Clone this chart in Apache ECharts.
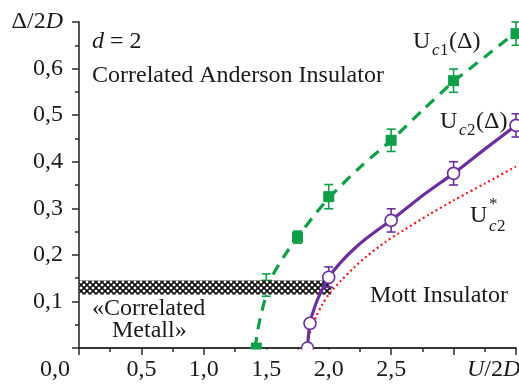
<!DOCTYPE html>
<html>
<head>
<meta charset="utf-8">
<script src="https://cdn.jsdelivr.net/npm/echarts@6/dist/echarts.min.js"></script>
<style>
  html, body { margin: 0; padding: 0; background: #fff; }
  #chart { width: 519px; height: 388px; }
</style>
</head>
<body>
<div id="chart"></div>
<script>
// U_c1(Δ): filled squares with error bars
const uc1U = [1.42, 1.5, 1.75, 2.0, 2.5, 3.0, 3.5];
const uc1D = [0.0, 0.135, 0.238, 0.325, 0.446, 0.574, 0.675];
const uc1Err = [0.0, 0.024, 0.013, 0.026, 0.024, 0.025, 0.025];
// dashed green fit
const uc1FitU = [1.41, 1.44, 1.49, 1.55, 1.65, 1.75, 1.9, 2.0, 2.25, 2.5, 2.75, 3.0, 3.25, 3.5];
const uc1FitD = [0.0, 0.05, 0.105, 0.155, 0.2, 0.238, 0.29, 0.322, 0.388, 0.446, 0.51, 0.572, 0.625, 0.678];

// U_c2(Δ): open circles with error bars
const uc2U = [1.83, 1.85, 2.0, 2.5, 3.0, 3.5];
const uc2D = [0.0, 0.053, 0.152, 0.274, 0.375, 0.478];
const uc2Err = [0.0, 0.0, 0.022, 0.025, 0.025, 0.025];
// solid purple fit
const uc2FitU = [1.83, 1.85, 1.9, 1.95, 2.0, 2.1, 2.2, 2.3, 2.4, 2.5, 2.75, 3.0, 3.25, 3.5];
const uc2FitD = [0.0, 0.053, 0.097, 0.127, 0.152, 0.185, 0.212, 0.235, 0.255, 0.274, 0.327, 0.375, 0.427, 0.478];

// U*_c2: dotted red curve
const ucStarU = [1.83, 1.84, 1.86, 1.9, 1.95, 2.0, 2.1, 2.2, 2.3, 2.45, 2.6, 2.8, 3.0, 3.25, 3.5];
const ucStarD = [0.0, 0.022, 0.042, 0.068, 0.094, 0.115, 0.145, 0.172, 0.196, 0.227, 0.253, 0.286, 0.317, 0.353, 0.39];

// hatched "correlated metal" band
const bandU = [0.0, 2.02];
const bandD = [0.115, 0.145];

const xTicks = [0.5, 1.0, 1.5, 2.0, 2.5];
const yTicks = [0.1, 0.2, 0.3, 0.4, 0.5, 0.6];

const GREEN = "#0e9f47";
const PURPLE = "#6b2f9e";
const RED = "#f5141e";
const AXIS = "#2a2a2a";
const FONT = "Liberation Serif";

const chart = echarts.init(document.getElementById("chart"), null, { renderer: "canvas" });

function hatch() {
  const c = document.createElement("canvas");
  c.width = c.height = 6;
  const g = c.getContext("2d");
  g.fillStyle = "#fff";
  g.fillRect(0, 0, 6, 6);
  g.strokeStyle = "#111";
  g.lineWidth = 1.7;
  g.beginPath();
  g.moveTo(0, 0); g.lineTo(6, 6);
  g.moveTo(6, 0); g.lineTo(0, 6);
  g.stroke();
  return c;
}
const hatchCanvas = hatch();

const fmt = (v) => v.toFixed(1).replace(".", ",");

function errBars(color) {
  return function (params, api) {
    const x = api.value(0), y = api.value(1), e = api.value(2);
    if (!e) return null;
    const top = api.coord([x, y + e]);
    const bot = api.coord([x, y - e]);
    const hw = 4.5;
    const st = { stroke: color, lineWidth: 1.6 };
    return {
      type: "group",
      children: [
        { type: "line", shape: { x1: top[0], y1: top[1], x2: bot[0], y2: bot[1] }, style: st },
        { type: "line", shape: { x1: top[0] - hw, y1: top[1], x2: top[0] + hw, y2: top[1] }, style: st },
        { type: "line", shape: { x1: bot[0] - hw, y1: bot[1], x2: bot[0] + hw, y2: bot[1] }, style: st },
      ],
    };
  };
}

const uc1 = uc1U.map((u, i) => [u, uc1D[i], uc1Err[i]]);
const uc2 = uc2U.map((u, i) => [u, uc2D[i], uc2Err[i]]);
const uc1Fit = uc1FitU.map((u, i) => [u, uc1FitD[i]]);
const uc2Fit = uc2FitU.map((u, i) => [u, uc2FitD[i]]);
const ucStar = ucStarU.map((u, i) => [u, ucStarD[i]]);

const txt = (left, top, text, size, italic, extra) => ({
  type: "text",
  left: left,
  top: top,
  z: 20,
  style: Object.assign({
    text: text,
    font: (italic ? "italic " : "") + size + "px '" + FONT + "'",
    fill: "#1a1a1a",
  }, extra || {}),
});

const richIN = {
  i: { font: "italic 24px '" + FONT + "'", fill: "#1a1a1a" },
  n: { font: "24px '" + FONT + "'", fill: "#1a1a1a" },
};

const option = {
  backgroundColor: "#fff",
  animation: false,
  grid: { left: 79, right: 0, top: 22, bottom: 40 },
  xAxis: [
    {
      type: "value",
      min: 0,
      max: 3.5,
      interval: 0.5,
      axisLine: { show: true, onZero: false, lineStyle: { color: AXIS, width: 1.6 } },
      axisTick: { show: true, length: 7, lineStyle: { color: AXIS, width: 1.5 } },
      minorTick: { show: true, splitNumber: 2, length: 4, lineStyle: { color: AXIS, width: 1.5 } },
      splitLine: { show: false },
      axisLabel: {
        margin: 10,
        fontFamily: FONT,
        fontSize: 24,
        color: "#1a1a1a",
        formatter: (v) => (xTicks.some((t) => Math.abs(t - v) < 1e-6) ? fmt(v) : ""),
      },
    },
    {
      type: "value",
      position: "top",
      min: 0,
      max: 3.5,
      axisLine: { show: true, lineStyle: { color: AXIS, width: 1.6 } },
      axisTick: { show: false },
      axisLabel: { show: false },
      splitLine: { show: false },
    },
  ],
  yAxis: {
    type: "value",
    min: 0,
    max: 0.7,
    interval: 0.1,
    axisLine: { show: true, onZero: false, lineStyle: { color: AXIS, width: 1.6 } },
    axisTick: { show: true, length: 7, lineStyle: { color: AXIS, width: 1.5 } },
    minorTick: { show: true, splitNumber: 2, length: 4, lineStyle: { color: AXIS, width: 1.5 } },
    splitLine: { show: false },
    axisLabel: {
      margin: 16,
      fontFamily: FONT,
      fontSize: 24,
      color: "#1a1a1a",
      formatter: (v) => {
        if (Math.abs(v - 0.7) < 1e-6) return "{n|Δ/2}{i|D}";
        return yTicks.some((t) => Math.abs(t - v) < 1e-6) ? fmt(v) : "";
      },
      rich: {
        n: { fontFamily: FONT, fontSize: 24, color: "#1a1a1a" },
        i: { fontFamily: FONT, fontSize: 24, fontStyle: "italic", color: "#1a1a1a" },
      },
    },
  },
  series: [
    {
      name: "Uc1 fit",
      type: "line",
      data: uc1Fit,
      smooth: 0.25,
      showSymbol: false,
      z: 2,
      lineStyle: { color: GREEN, width: 3.2, type: [11, 8] },
    },
    {
      name: "Uc1 err",
      type: "custom",
      data: uc1,
      renderItem: errBars(GREEN),
      z: 3,
    },
    {
      name: "Uc1",
      type: "scatter",
      data: uc1.map((d) => [d[0], d[1]]),
      symbol: "rect",
      symbolSize: 11,
      itemStyle: { color: GREEN, opacity: 1 },
      z: 4,
    },
    {
      name: "band",
      type: "custom",
      data: [[bandU[0], bandD[0], bandU[1], bandD[1]]],
      renderItem: (params, api) => {
        const a = api.coord([api.value(0), api.value(3)]);
        const b = api.coord([api.value(2), api.value(1)]);
        return {
          type: "rect",
          shape: { x: a[0], y: a[1], width: b[0] - a[0], height: b[1] - a[1] },
          style: { fill: { image: hatchCanvas, repeat: "repeat" }, stroke: null },
        };
      },
      z: 5,
    },
    {
      name: "Uc2*",
      type: "line",
      data: ucStar,
      smooth: 0.25,
      showSymbol: false,
      z: 6,
      lineStyle: { color: RED, width: 2.2, type: [2, 3] },
    },
    {
      name: "Uc2 fit",
      type: "line",
      data: uc2Fit,
      smooth: 0.25,
      showSymbol: false,
      z: 7,
      lineStyle: { color: PURPLE, width: 3.2 },
    },
    {
      name: "Uc2 err",
      type: "custom",
      data: uc2,
      renderItem: errBars(PURPLE),
      z: 8,
    },
    {
      name: "Uc2",
      type: "scatter",
      data: uc2.map((d) => [d[0], d[1]]),
      symbol: "circle",
      symbolSize: 12,
      itemStyle: { color: "#fff", borderColor: PURPLE, borderWidth: 1.6, opacity: 1 },
      z: 9,
    },
  ],
  graphic: [
    // white strip hides the part of the markers below the axis
    { type: "rect", left: 240, top: 349.5, shape: { width: 90, height: 8 }, style: { fill: "#fff" }, z: 15 },
    txt(40, 358, "0,0", 24, false),
    txt(467, 358, "{i|U}{n|/2}{i|D}", 24, false, { rich: richIN }),
    txt(92, 30, "{i|d}{n| = 2}", 24, false, { rich: richIN }),
    txt(92, 64, "Correlated Anderson Insulator", 24, false),
    // U_c1(Δ)
    txt(413, 30, "U", 24, false),
    txt(432, 42, "c", 17, true),
    txt(440, 42, "1", 17, false),
    txt(449, 30, "(Δ)", 24, false),
    // U_c2(Δ)
    txt(440, 110, "U", 24, false),
    txt(459, 122, "c", 17, true),
    txt(467, 122, "2", 17, false),
    txt(476, 110, "(Δ)", 24, false),
    // U*_c2
    txt(470, 204, "U", 24, false),
    txt(489, 196, "*", 17, false),
    txt(489, 218, "c", 17, true),
    txt(497, 218, "2", 17, false),
    txt(370, 284, "Mott Insulator", 24, false),
    txt(92, 297, "«Correlated", 24, false),
    txt(112, 319, "Metall»", 24, false),
  ],
};

chart.setOption(option);
</script>
</body>
</html>
